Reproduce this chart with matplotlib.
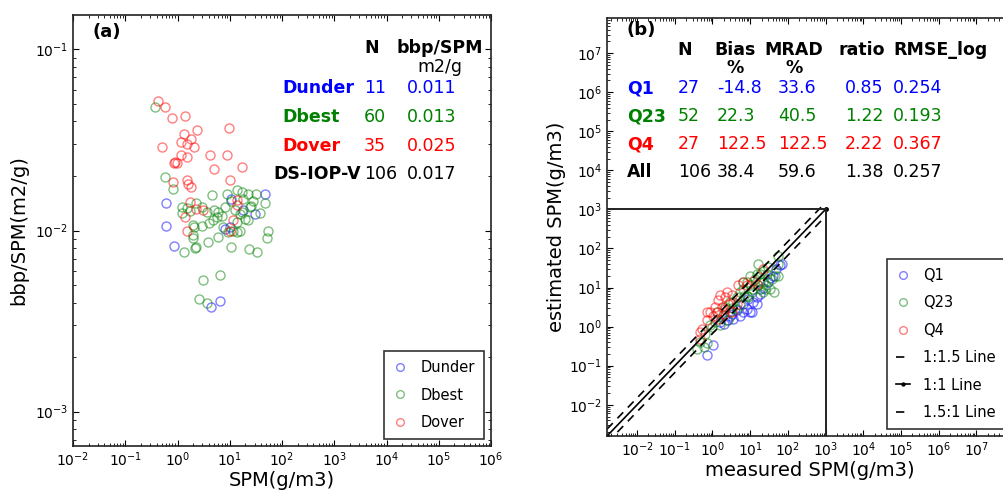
import numpy as np
import matplotlib
matplotlib.use("Agg")
import matplotlib.pyplot as plt
from matplotlib.ticker import LogLocator, NullFormatter, FixedLocator, LogFormatterSciNotation

# ---------------- Panel (a) data ----------------
dunder_spm = [0.60, 0.60, 0.85, 47, 30, 10.8, 18, 8.1, 10, 4.3, 6.5]
dunder_ratio = [0.0141, 0.0106, 0.0082, 0.016, 0.0124, 0.015, 0.0129, 0.0102, 0.0104, 0.0038, 0.0041]

dbest_spm = [0.37, 0.58, 0.83, 4.5, 8.7, 13.5, 16.8, 22.5, 32, 47, 25, 1.2, 1.5, 2.3, 3.6,
             6.0, 5.6, 4.8, 7.0, 12.4, 16.8, 19.4, 2.1, 2.9, 2.0, 3.9, 6.0, 15.6, 9.2, 54,
             51, 13.5, 22.5, 11.6, 10.8, 1.34, 2.2, 23.5, 33, 3.1, 6.5, 2.6, 3.6, 2.0, 24,
             15.6, 13.5, 2.3, 2.0, 1.2, 1.7, 5.0, 8.0, 10.5, 28, 4.0, 7.5, 38, 3.0, 18]
dbest_ratio = [0.048, 0.0198, 0.0169, 0.0157, 0.016, 0.0167, 0.0163, 0.016, 0.016, 0.0142, 0.0137,
               0.0135, 0.0133, 0.0141, 0.0127, 0.0127, 0.0118, 0.0114, 0.012, 0.0129, 0.0127,
               0.0116, 0.0104, 0.0106, 0.0091, 0.0086, 0.0092, 0.010, 0.0098, 0.010, 0.0091,
               0.0111, 0.0114, 0.010, 0.0081, 0.0076, 0.0080, 0.0079, 0.0076, 0.0053, 0.0057,
               0.0042, 0.0040, 0.0107, 0.0135, 0.0124, 0.0098, 0.0081, 0.0094, 0.0125, 0.0128,
               0.013, 0.0135, 0.0145, 0.0145, 0.011, 0.0105, 0.0125, 0.0135, 0.015]

dover_spm = [0.43, 0.58, 0.77, 1.4, 1.34, 2.4, 1.8, 1.16, 1.5, 2.1, 0.51, 4.2, 8.7, 1.16, 1.5,
             0.89, 0.99, 0.84, 5.0, 16.8, 9.5, 0.83, 1.5, 1.6, 10.0, 1.8, 1.7, 2.3, 3.1, 1.4,
             13.5, 11.6, 1.5, 10, 14]
dover_ratio = [0.052, 0.048, 0.042, 0.043, 0.034, 0.036, 0.032, 0.031, 0.030, 0.029, 0.029,
               0.026, 0.026, 0.026, 0.0256, 0.024, 0.0235, 0.0235, 0.0218, 0.0225, 0.037,
               0.0186, 0.019, 0.018, 0.019, 0.0174, 0.0144, 0.0132, 0.0129, 0.0119, 0.0138,
               0.0114, 0.010, 0.010, 0.0148]

table_a_labels = ["Dunder", "Dbest", "Dover", "DS-IOP-V"]
table_a_N = ["11", "60", "35", "106"]
table_a_ratio = ["0.011", "0.013", "0.025", "0.017"]

# ---------------- Panel (b) data ----------------
q1_meas = [0.70, 1.06, 2.4, 2.9, 5.4, 6.6, 11, 4.4, 8.1, 15, 18, 41, 62, 70, 49, 3.5, 12.2,
           9, 22, 30, 2.0, 6.6, 15, 34, 1.6, 3.3, 9.9]
q1_est = [0.185, 0.33, 1.45, 1.9, 1.9, 2.4, 2.4, 2.6, 2.9, 5.7, 6.9, 20, 37, 40, 30, 1.55, 4.2,
          5.2, 9.6, 13.7, 1.2, 3.8, 3.8, 18, 1.3, 2.1, 2.4]

q23_meas = [16.5, 56, 56, 37, 22, 18, 28, 15, 10, 6.6, 4.4, 2.9, 2.2, 1.6, 1.17, 0.86, 0.47,
            0.64, 0.38, 8.1, 5.4, 11, 22, 30, 34, 42, 22, 18, 3.6, 8.1, 13.5, 2.9, 4.4, 1.3,
            1.9, 6.6, 16.5, 9, 25, 56, 46, 2.6, 5.4, 12, 27, 18, 10, 0.7, 0.6, 1.0, 3.2, 7.0]
q23_est = [40, 66, 20, 17, 7.6, 14, 22, 22, 11.3, 9.3, 5.7, 4.2, 3.2, 1.08, 1.3, 1.08, 0.4,
           0.66, 0.27, 14, 7.6, 7.6, 27, 33, 9.3, 7.6, 14, 9.3, 4.2, 6.1, 17, 2.4, 2.9, 2.4,
           2.0, 14, 11.3, 5.7, 9.3, 40, 20, 1.5, 3.5, 9.3, 11.3, 22, 20, 0.37, 0.3, 1.0, 3.0, 6.0]

q4_meas = [0.52, 0.47, 0.70, 0.86, 1.17, 1.6, 2.2, 3.2, 1.3, 1.8, 2.0, 2.6, 0.70, 1.06, 4.9,
           6.6, 12.2, 15, 1.44, 2.2, 3.2, 4.4, 22, 0.47, 1.44, 2.4, 8.1]
q4_est = [0.89, 0.49, 1.45, 2.4, 3.2, 6.3, 5.7, 6.3, 2.4, 3.2, 2.1, 3.8, 2.4, 1.9, 11.3, 13.7,
          15, 12.5, 4.7, 2.9, 2.4, 3.8, 30, 0.73, 1.6, 7.6, 11.3]

table_b_header = ["N", "Bias\n%", "MRAD\n%", "ratio", "RMSE_log"]
table_b_labels = ["Q1", "Q23", "Q4", "All"]
table_b_N = ["27", "52", "27", "106"]
table_b_bias = ["-14.8", "22.3", "122.5", "38.4"]
table_b_mrad = ["33.6", "40.5", "122.5", "59.6"]
table_b_ratio = ["0.85", "1.22", "2.22", "1.38"]
table_b_rmse = ["0.254", "0.193", "0.367", "0.257"]

xticks_a = [1e-2, 1e-1, 1e0, 1e1, 1e2, 1e3, 1e4, 1e5, 1e6]
yticks_a = [1e-3, 1e-2, 1e-1]
ticks_b = [1e-2, 1e-1, 1e0, 1e1, 1e2, 1e3, 1e4, 1e5, 1e6, 1e7]

line_lo, line_hi = 10 ** -2.8, 1e3
box_xy = 1e3

# ---------------- Figure ----------------
W, H = 1004, 493
fig = plt.figure(figsize=(W / 100, H / 100), dpi=100)
fig.patch.set_facecolor("white")

def fx(px):
    return px / W

def fy(py):
    return 1 - py / H

def style_axes(ax):
    ax.tick_params(which="both", direction="in", top=True, right=True, labelsize=10)
    ax.tick_params(which="major", length=4, width=0.8)
    ax.tick_params(which="minor", length=2, width=0.6)
    for s in ax.spines.values():
        s.set_linewidth(1.2)
        s.set_color("#222222")

def set_log_ticks(axis, ticks):
    axis.set_major_locator(FixedLocator(ticks))
    axis.set_major_formatter(LogFormatterSciNotation())
    axis.set_minor_locator(LogLocator(base=10, subs=np.arange(2, 10), numticks=100))
    axis.set_minor_formatter(NullFormatter())

cols = {"b": (0, 0, 1), "g": (0, 0.5, 0), "r": (1, 0, 0)}
mk = dict(marker="o", linestyle="none", markerfacecolor="none", markersize=6.5,
          markeredgewidth=1.0, alpha=0.5)

# Panel (a)
axa = fig.add_axes([fx(73), fy(446), fx(491) - fx(73), fy(15) - fy(446)])
axa.set_xscale("log")
axa.set_yscale("log")
axa.plot(dunder_spm, dunder_ratio, color=cols["b"], label="Dunder", **mk)
axa.plot(dbest_spm, dbest_ratio, color=cols["g"], label="Dbest", **mk)
axa.plot(dover_spm, dover_ratio, color=cols["r"], label="Dover", **mk)
axa.set_xlim(1e-2, 1e6)
axa.set_ylim(10 ** -3.19, 10 ** -0.81)
set_log_ticks(axa.xaxis, xticks_a)
set_log_ticks(axa.yaxis, yticks_a)
style_axes(axa)
axa.set_xlabel("SPM(g/m3)", fontsize=14, labelpad=1)
axa.set_ylabel("bbp/SPM(m2/g)", fontsize=14, labelpad=5)
leg = axa.legend(loc="lower right", numpoints=1, fontsize=10.5, fancybox=False,
                 edgecolor="#333333", handlelength=1.0, handletextpad=0.9,
                 labelspacing=0.85, borderpad=0.6, markerscale=0.85, framealpha=1)
leg.get_frame().set_linewidth(1.2)

fs = 12.5
fig.text(fx(93), fy(32), "(a)", fontsize=13, fontweight="bold", va="center", ha="left")
fig.text(fx(372), fy(48), "N", fontsize=fs, fontweight="bold", va="center", ha="center")
fig.text(fx(440), fy(48), "bbp/SPM", fontsize=fs, fontweight="bold", va="center", ha="center")
fig.text(fx(440), fy(67), "m2/g", fontsize=fs, va="center", ha="center")
row_y_a = [88, 117, 146, 174]
row_c_a = ["b", "g", "r", "k"]
lab_x_a = [282, 282, 282, 273]
for lab, n, r, yy, c, lx0 in zip(table_a_labels, table_a_N, table_a_ratio, row_y_a, row_c_a, lab_x_a):
    color = cols.get(c, (0, 0, 0))
    fig.text(fx(lx0), fy(yy), lab, fontsize=fs, fontweight="bold", color=color, va="center", ha="left")
    fig.text(fx(364), fy(yy), n, fontsize=fs, color=color, va="center", ha="left")
    fig.text(fx(407), fy(yy), r, fontsize=fs, color=color, va="center", ha="left")

# Panel (b)
axb = fig.add_axes([fx(607), fy(436), fx(1012) - fx(607), fy(18) - fy(436)])
axb.set_xscale("log")
axb.set_yscale("log")
axb.plot(q1_meas, q1_est, color=cols["b"], label="Q1", **mk)
axb.plot(q23_meas, q23_est, color=cols["g"], label="Q23", **mk)
axb.plot(q4_meas, q4_est, color=cols["r"], label="Q4", **mk)
lx = np.array([line_lo, line_hi])
axb.plot(lx, lx / 1.5, color="k", linestyle=(0, (5, 4)), lw=1.2, label="1:1.5 Line")
axb.plot(lx, lx, "k.-", lw=1.2, markersize=5, label="1:1 Line")
axb.plot(lx, lx * 1.5, color="k", linestyle=(0, (5, 4)), lw=1.2, label="1.5:1 Line")
axb.plot([line_lo, box_xy], [box_xy, box_xy], color="#222222", lw=1.4)
axb.plot([box_xy, box_xy], [line_lo, box_xy], color="#222222", lw=1.4)
axb.set_xlim(10 ** -2.8, 10 ** 7.95)
axb.set_ylim(10 ** -2.8, 10 ** 7.9)
set_log_ticks(axb.xaxis, ticks_b)
set_log_ticks(axb.yaxis, ticks_b)
style_axes(axb)
axb.set_xlabel("measured SPM(g/m3)", fontsize=14, labelpad=1)
axb.set_ylabel("estimated SPM(g/m3)", fontsize=14, labelpad=2)
legb = axb.legend(loc="lower right", numpoints=1, fontsize=10.5, fancybox=False,
                  edgecolor="#333333", handlelength=1.0, handletextpad=0.9,
                  labelspacing=0.85, borderpad=0.6, markerscale=0.85, framealpha=1)
legb.get_frame().set_linewidth(1.2)

fig.text(fx(627), fy(30), "(b)", fontsize=13, fontweight="bold", va="center", ha="left")
hdr_x = [685, 735, 794, 862, 941]
for h, xx in zip(table_b_header, hdr_x):
    lines = h.split("\n")
    fig.text(fx(xx), fy(50), lines[0], fontsize=fs, fontweight="bold", va="center", ha="center")
    if len(lines) > 1:
        fig.text(fx(xx), fy(68), lines[1], fontsize=fs, fontweight="bold", va="center", ha="center")
row_y_b = [88, 116, 144, 172]
row_c_b = ["b", "g", "r", "k"]
val_x_b = [678, 717, 778, 845, 893]
for i, (lab, c, yy) in enumerate(zip(table_b_labels, row_c_b, row_y_b)):
    color = cols.get(c, (0, 0, 0))
    fig.text(fx(627), fy(yy), lab, fontsize=fs, fontweight="bold", color=color, va="center", ha="left")
    vals = [table_b_N[i], table_b_bias[i], table_b_mrad[i], table_b_ratio[i], table_b_rmse[i]]
    for v, xx in zip(vals, val_x_b):
        fig.text(fx(xx), fy(yy), v, fontsize=fs, color=color, va="center", ha="left")

fig.savefig("out.png", dpi=100, facecolor="white")
